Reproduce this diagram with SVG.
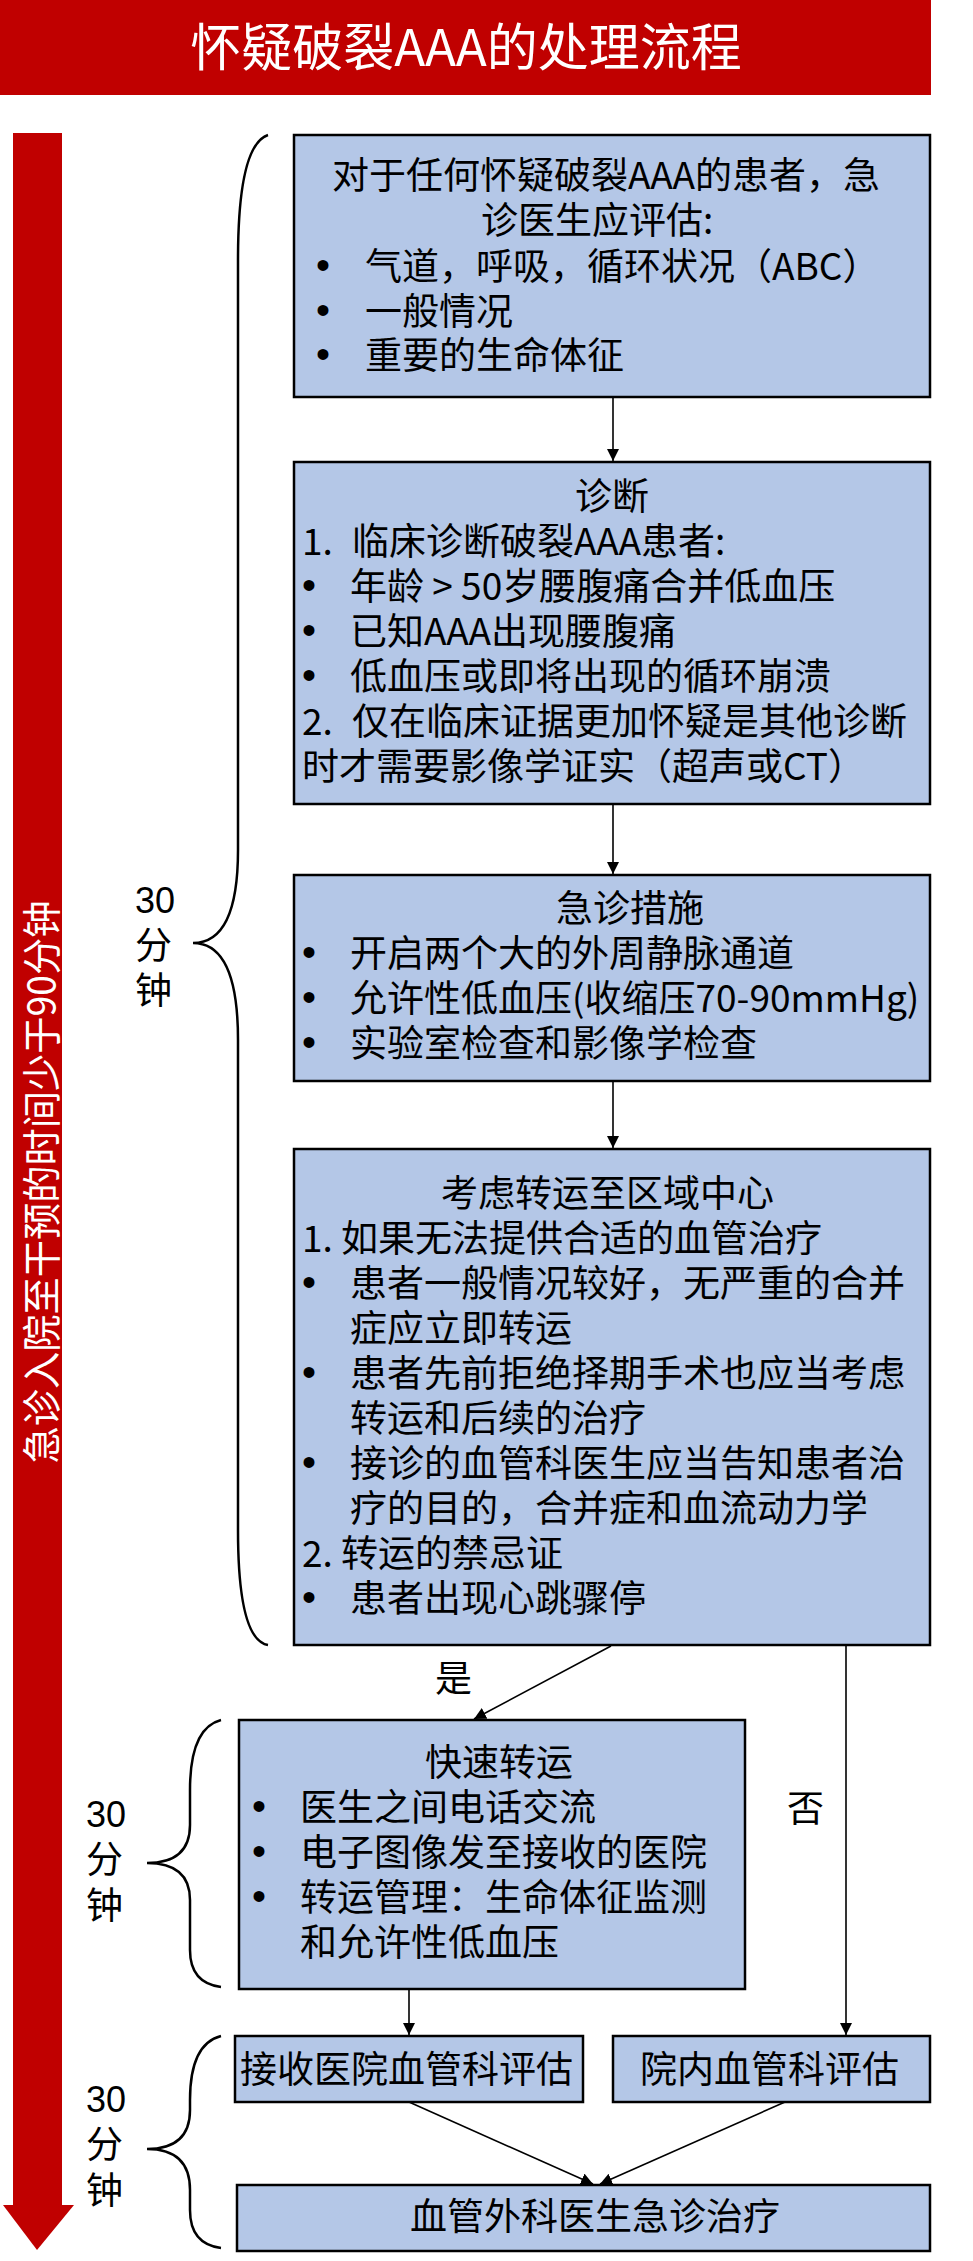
<svg xmlns="http://www.w3.org/2000/svg" width="973" height="2261" viewBox="0 0 973 2261">
<style>
.box{fill:#B4C7E7;stroke:#000;stroke-width:2.5}
.t{font-family:"Noto Sans CJK SC","Noto Sans",sans-serif;font-size:37px;fill:#000}
.b{font-family:"Liberation Sans",sans-serif;font-size:40px;fill:#000}
.n{font-family:"Liberation Sans","Noto Sans CJK SC",sans-serif;font-size:36px;fill:#000}
.conn{stroke:#000;stroke-width:1.6;fill:none;marker-end:url(#ah)}
.brace{stroke:#000;stroke-width:2.5;fill:none}
.red{fill:#C00000}
</style>
<defs>
<marker id="ah" markerUnits="userSpaceOnUse" markerWidth="13" markerHeight="13" refX="12" refY="6" orient="auto">
<path d="M0,0 L12,6 L0,12 z" fill="#000"/>
</marker>
</defs>
<rect width="973" height="2261" fill="#fff"/>

<g id="title">
<rect class="red" x="0" y="0" width="931" height="95"/>
<text x="466" y="66" text-anchor="middle" font-family="Noto Sans CJK SC, sans-serif" font-size="51" fill="#fff">怀疑破裂AAA的处理流程</text>
</g>

<g id="timeline">
<rect class="red" x="13" y="133" width="49" height="2074"/>
<polygon class="red" points="3,2205 74,2205 37,2250"/>
<text transform="translate(56,1182) rotate(-90)" text-anchor="middle" font-family="Noto Sans CJK SC, sans-serif" font-size="39" fill="#fff" textLength="563" lengthAdjust="spacingAndGlyphs">急诊入院至干预的时间少于90分钟</text>
</g>

<g id="brace1">
<path class="brace" d="M268,135 Q238,145 238,260 L238,850 Q238,943 193,943 Q238,943 238,1040 L238,1530 Q238,1640 268,1645"/>
<text class="n" x="135" y="913">30</text>
<text class="t" x="135" y="959">分</text>
<text class="t" x="135" y="1004">钟</text>
</g>
<g id="brace2">
<path class="brace" d="M221,1720 Q190,1728 190,1790 L190,1825 Q190,1863 147,1863 Q190,1863 190,1900 L190,1950 Q190,1983 221,1987"/>
<text class="n" x="86" y="1827">30</text>
<text class="t" x="86" y="1873">分</text>
<text class="t" x="86" y="1919">钟</text>
</g>
<g id="brace3">
<path class="brace" d="M221,2036 Q190,2044 190,2100 L190,2110 Q190,2149 147,2149 Q190,2149 190,2190 L190,2210 Q190,2244 221,2248"/>
<text class="n" x="86" y="2112">30</text>
<text class="t" x="86" y="2158">分</text>
<text class="t" x="86" y="2204">钟</text>
</g>

<g id="node-assess">
<rect class="box" x="294" y="135" width="636" height="262"/>
<text class="t" x="332" y="189">对于任何怀疑破裂AAA的患者，急</text>
<text class="t" x="481" y="234">诊医生应评估:</text>
<text class="b" x="323" y="279" text-anchor="middle">•</text>
<text class="t" x="365" y="280">气道，呼吸，循环状况（ABC）</text>
<text class="b" x="323" y="324" text-anchor="middle">•</text>
<text class="t" x="365" y="325">一般情况</text>
<text class="b" x="323" y="368" text-anchor="middle">•</text>
<text class="t" x="365" y="369">重要的生命体征</text>
</g>

<g id="node-diagnosis">
<rect class="box" x="294" y="462" width="636" height="342"/>
<text class="t" x="575" y="510">诊断</text>
<text class="t" x="302" y="555">1.</text>
<text class="t" x="352" y="555">临床诊断破裂AAA患者:</text>
<text class="b" x="309" y="599" text-anchor="middle">•</text>
<text class="t" x="350" y="600">年龄 &gt; 50岁腰腹痛合并低血压</text>
<text class="b" x="309" y="644" text-anchor="middle">•</text>
<text class="t" x="350" y="645">已知AAA出现腰腹痛</text>
<text class="b" x="309" y="689" text-anchor="middle">•</text>
<text class="t" x="350" y="690">低血压或即将出现的循环崩溃</text>
<text class="t" x="302" y="735">2.</text>
<text class="t" x="352" y="735">仅在临床证据更加怀疑是其他诊断</text>
<text class="t" x="302" y="780">时才需要影像学证实（超声或CT）</text>
</g>

<g id="node-emergency">
<rect class="box" x="294" y="875" width="636" height="206"/>
<text class="t" x="556" y="922">急诊措施</text>
<text class="b" x="309" y="966" text-anchor="middle">•</text>
<text class="t" x="350" y="967">开启两个大的外周静脉通道</text>
<text class="b" x="309" y="1011" text-anchor="middle">•</text>
<text class="t" x="350" y="1012">允许性低血压(收缩压70-90mmHg)</text>
<text class="b" x="309" y="1056" text-anchor="middle">•</text>
<text class="t" x="350" y="1057">实验室检查和影像学检查</text>
</g>

<g id="node-transfer-consider">
<rect class="box" x="294" y="1149" width="636" height="496"/>
<text class="t" x="441" y="1207">考虑转运至区域中心</text>
<text class="t" x="302" y="1252">1.</text>
<text class="t" x="341" y="1252">如果无法提供合适的血管治疗</text>
<text class="b" x="309" y="1296" text-anchor="middle">•</text>
<text class="t" x="350" y="1297">患者一般情况较好，无严重的合并</text>
<text class="t" x="350" y="1342">症应立即转运</text>
<text class="b" x="309" y="1386" text-anchor="middle">•</text>
<text class="t" x="350" y="1387">患者先前拒绝择期手术也应当考虑</text>
<text class="t" x="350" y="1432">转运和后续的治疗</text>
<text class="b" x="309" y="1476" text-anchor="middle">•</text>
<text class="t" x="350" y="1477">接诊的血管科医生应当告知患者治</text>
<text class="t" x="350" y="1522">疗的目的，合并症和血流动力学</text>
<text class="t" x="302" y="1567">2.</text>
<text class="t" x="341" y="1567">转运的禁忌证</text>
<text class="b" x="309" y="1611" text-anchor="middle">•</text>
<text class="t" x="350" y="1612">患者出现心跳骤停</text>
</g>

<g id="node-fast-transfer">
<rect class="box" x="239" y="1720" width="506" height="269"/>
<text class="t" x="425" y="1776">快速转运</text>
<text class="b" x="259" y="1820" text-anchor="middle">•</text>
<text class="t" x="300" y="1821">医生之间电话交流</text>
<text class="b" x="259" y="1865" text-anchor="middle">•</text>
<text class="t" x="300" y="1866">电子图像发至接收的医院</text>
<text class="b" x="259" y="1910" text-anchor="middle">•</text>
<text class="t" x="300" y="1911">转运管理：生命体征监测</text>
<text class="t" x="300" y="1956">和允许性低血压</text>
</g>

<g id="node-receiving">
<rect class="box" x="235" y="2036" width="348" height="66"/>
<text class="t" x="240" y="2083">接收医院血管科评估</text>
</g>
<g id="node-inhouse">
<rect class="box" x="613" y="2036" width="317" height="66"/>
<text class="t" x="640" y="2083">院内血管科评估</text>
</g>
<g id="node-treatment">
<rect class="box" x="237" y="2185" width="693" height="66"/>
<text class="t" x="410" y="2230">血管外科医生急诊治疗</text>
</g>

<g id="connectors">
<line class="conn" x1="613" y1="397" x2="613" y2="461"/>
<line class="conn" x1="613" y1="804" x2="613" y2="874"/>
<line class="conn" x1="613" y1="1081" x2="613" y2="1148"/>
<line class="conn" x1="611" y1="1646" x2="474" y2="1719"/>
<line class="conn" x1="846" y1="1646" x2="846" y2="2035"/>
<line class="conn" x1="409" y1="1990" x2="409" y2="2035"/>
<line class="conn" x1="409" y1="2102" x2="593" y2="2184"/>
<line class="conn" x1="785" y1="2102" x2="600" y2="2184"/>
<text class="t" x="435" y="1692">是</text>
<text class="t" x="787" y="1822">否</text>
</g>
</svg>
